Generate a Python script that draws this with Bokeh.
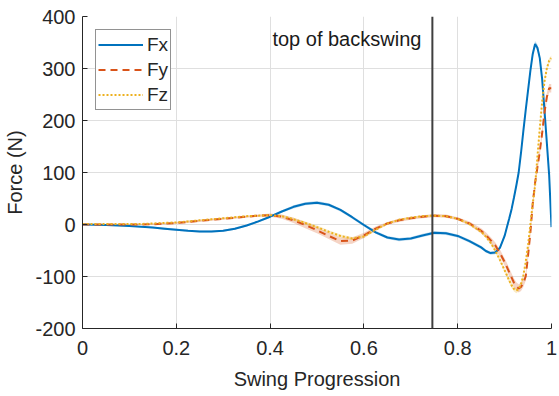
import numpy as np
from bokeh.plotting import figure
from bokeh.models import (Span, Label, Legend, LegendItem, FixedTicker,
                          NumeralTickFormatter, Range1d)
from bokeh.embed import file_html
from bokeh.resources import INLINE

# ---------------- data ----------------
progress = [0.000, 0.025, 0.050, 0.075, 0.100, 0.125, 0.150, 0.175, 0.200, 0.225,
            0.250, 0.275, 0.300, 0.325, 0.350, 0.375, 0.400, 0.425, 0.450, 0.475,
            0.500, 0.525, 0.550, 0.575, 0.600, 0.625, 0.650, 0.675, 0.700, 0.725,
            0.750, 0.775, 0.800, 0.825, 0.850,
            0.860, 0.870, 0.880, 0.890, 0.900,
            0.905, 0.910, 0.915, 0.920, 0.925, 0.930, 0.935, 0.940, 0.945, 0.950,
            0.955, 0.960, 0.965, 0.970, 0.975, 0.980, 0.985, 0.990, 0.995, 1.000]

fx = [0, -0.5, -1, -2, -3, -4.5, -6, -8, -10, -12,
      -13.5, -13.5, -12, -8, -2, 6, 15, 25, 34, 40,
      42, 38, 28, 14, -1, -15, -25, -29, -27, -21,
      -16, -17, -22, -32, -44,
      -51, -55, -54, -45, -22,
      -5, 12, 30, 52, 75, 100, 138, 180, 220, 258,
      296, 328, 347, 340, 320, 280, 220, 158, 95, -5]

fy = [0, 0, 0, 0, 0, 0, 0.5, 1.5, 3, 5,
      7, 9, 11, 13, 15, 17, 18, 15, 8, -1,
      -11, -22, -32, -31, -21, -8, 2, 8, 12, 15,
      17, 16, 11, 2, -12,
      -20, -30, -40, -55, -72,
      -82, -92, -102, -112, -119, -123, -120, -112, -100, -60,
      -15, 40, 80, 110, 140, 175, 215, 245, 262, 262]

fz = [1, 1, 1, 1, 1, 1, 2, 3, 4, 6,
      8, 10, 12, 14, 16, 17, 18, 16, 10, 3,
      -5, -14, -22, -27, -23, -10, 2, 9, 13, 16,
      17, 16, 11, 1, -14,
      -23, -35, -50, -68, -88,
      -98, -108, -117, -124, -127, -124, -115, -98, -72, -40,
      0, 40, 75, 130, 185, 235, 275, 300, 315, 320]

# half-widths of the shaded spread bands
sd_x = [0, 0.5, 0.5, 1, 1, 1.5, 1.5, 2, 2, 2,
        2, 2, 2, 2, 2, 2, 2, 2.5, 3, 3,
        3, 3, 3, 3, 3, 3, 3, 3, 3, 3,
        3, 3, 3, 3, 3,
        3, 3, 3, 3, 4,
        4, 4, 5, 5, 5, 6, 6, 6, 6, 6,
        6, 6, 6, 6, 6, 6, 6, 6, 6, 6]
sd_y = [0, 0.5, 0.5, 1, 1, 1, 1.5, 1.5, 2, 2,
        2, 2, 2, 2, 2, 2, 3, 4, 5, 6,
        6, 6, 7, 6, 5, 4, 3, 3, 3, 3,
        3, 3, 3, 4, 5,
        5, 6, 6, 7, 7,
        8, 8, 8, 8, 8, 8, 8, 8, 8, 8,
        8, 8, 8, 8, 8, 8, 8, 8, 8, 8]
sd_z = [0, 0.5, 0.5, 1, 1, 1, 1, 1.5, 1.5, 1.5,
        1.5, 1.5, 1.5, 1.5, 1.5, 1.5, 2, 2, 3, 3,
        3, 3, 3, 3, 3, 2, 2, 2, 2, 2,
        2, 2, 2, 2, 3,
        3, 3, 4, 4, 4,
        5, 5, 5, 5, 5, 5, 5, 5, 5, 5,
        5, 5, 5, 5, 5, 5, 5, 5, 5, 5]

series_names = ["Fx", "Fy", "Fz"]
top_of_backswing = 0.746
x_ticks = [0, 0.2, 0.4, 0.6, 0.8, 1]
y_ticks = [-200, -100, 0, 100, 200, 300, 400]

# ---------------- figure ----------------
C_X, C_Y, C_Z = "#0072BD", "#D95319", "#EDB120"
FONT = "Liberation Sans"
TXT = "#262626"

p = figure(frame_width=469, frame_height=312, output_backend="svg",
           toolbar_location=None, x_range=Range1d(0, 1), y_range=Range1d(-200, 400),
           min_border_left=82, min_border_top=16, min_border_right=8)
p.outline_line_color = None
p.background_fill_color = "white"
p.border_fill_color = "white"

x = np.array(progress)
for vals, sd, col, a in [(fx, sd_x, C_X, 0.25), (fy, sd_y, C_Y, 0.25), (fz, sd_z, C_Z, 0.25)]:
    v = np.array(vals, dtype=float)
    s = np.array(sd, dtype=float)
    p.varea(x=x, y1=v - s, y2=v + s, fill_color=col, fill_alpha=a)

r_x = p.line(x, fx, line_color=C_X, line_width=2)
r_y = p.line(x, fy, line_color=C_Y, line_width=2, line_dash="7 5")
r_z = p.line(x, fz, line_color=C_Z, line_width=2, line_dash="2 2")

p.add_layout(Span(location=top_of_backswing, dimension="height",
                  line_color="#3f3f3f", line_width=2))
p.add_layout(Label(x=top_of_backswing, y=357, x_offset=-11, text="top of backswing",
                   text_align="right", text_baseline="alphabetic",
                   text_font=FONT, text_font_size="20px", text_color="#1a1a1a"))

for ax in (p.xaxis[0], p.yaxis[0]):
    ax.axis_line_color = TXT
    ax.axis_line_width = 1
    ax.major_tick_line_color = TXT
    ax.major_tick_in = 5
    ax.major_tick_out = 0
    ax.minor_tick_line_color = None
    ax.major_label_text_font = FONT
    ax.major_label_text_font_size = "20px"
    ax.major_label_text_color = TXT
    ax.axis_label_text_font = FONT
    ax.axis_label_text_font_size = "20px"
    ax.axis_label_text_color = TXT
    ax.axis_label_text_font_style = "normal"

p.xaxis.ticker = FixedTicker(ticks=x_ticks)
p.yaxis.ticker = FixedTicker(ticks=y_ticks)
p.xaxis.formatter = NumeralTickFormatter(format="0.[0]")
p.yaxis.formatter = NumeralTickFormatter(format="0")
p.xaxis.major_label_standoff = 12
p.yaxis.major_label_standoff = 7
p.xaxis.axis_label = "Swing Progression"
p.xaxis.axis_label_standoff = 10
p.yaxis.axis_label = "Force (N)"
p.yaxis.axis_label_standoff = 6

p.grid.grid_line_color = "#dfdfdf"
p.grid.grid_line_width = 1

legend = Legend(items=[LegendItem(label=series_names[0], renderers=[r_x]),
                       LegendItem(label=series_names[1], renderers=[r_y]),
                       LegendItem(label=series_names[2], renderers=[r_z])],
                location="top_left", margin=13, padding=2, spacing=0,
                label_height=25, glyph_height=25, glyph_width=45, label_standoff=4,
                label_text_font=FONT, label_text_font_size="19px", label_text_color=TXT,
                border_line_color=TXT, border_line_width=1,
                background_fill_color="white", background_fill_alpha=1)
p.add_layout(legend)

open("out.html", "w").write(file_html(p, INLINE))
